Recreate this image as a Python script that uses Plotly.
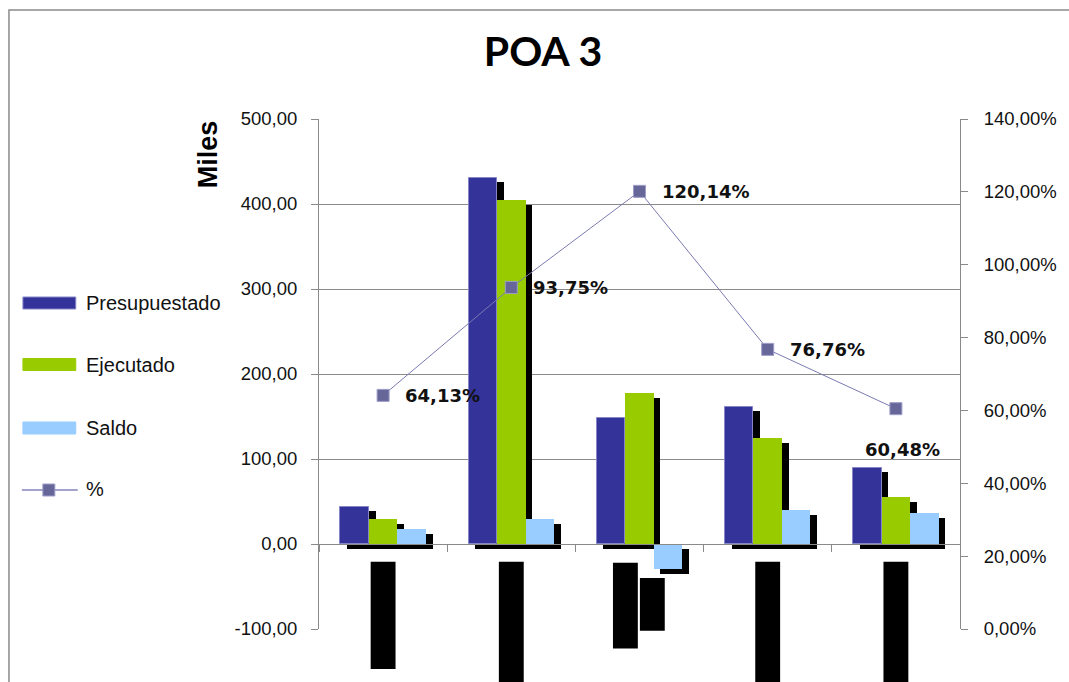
import plotly.graph_objects as go

# ---- data -------------------------------------------------------------
groups = [0, 1, 2, 3, 4]
presupuestado = [44.0, 431.0, 148.0, 161.5, 90.0]
ejecutado = [29.0, 404.5, 177.5, 124.5, 55.5]
saldo = [17.5, 29.0, -29.5, 39.5, 36.5]
porcentaje = [64.13, 93.75, 120.14, 76.76, 60.48]

left_ticks = [-100, 0, 100, 200, 300, 400, 500]
left_tick_text = ["-100,00", "0,00", "100,00", "200,00", "300,00", "400,00", "500,00"]
right_ticks = [0, 20, 40, 60, 80, 100, 120, 140]
right_tick_text = ["0,00%", "20,00%", "40,00%", "60,00%", "80,00%",
                   "100,00%", "120,00%", "140,00%"]

# category-label blocks under the axis: (group, offset, top, bottom) in axis units
label_blocks = [
    (0, 0.00, -21, -147),
    (1, 0.00, -21, -185),
    (2, -0.11, -22, -123),
    (2, 0.10, -40, -102),
    (3, 0.00, -21, -185),
    (4, 0.00, -21, -185),
]

# ---- layout geometry --------------------------------------------------
W, H = 1069, 682
M = dict(l=319, r=107, t=119, b=53)
PW = W - M["l"] - M["r"]
PH = H - M["t"] - M["b"]
Y_RANGE = [-100, 500]
X_RANGE = [-0.5, 4.5]


def px(x):
    return (x - M["l"]) / PW


def py(y):
    return 1 - (y - M["t"]) / PH


GRAY = "#8a8a8a"
C_PRES = "#333399"
C_EJEC = "#99cc00"
C_SALDO = "#99ccff"
C_PCT = "#666699"

BAR_W = 2 / 9
OFFSETS = [-1.5 * BAR_W, -0.5 * BAR_W, 0.5 * BAR_W]
SHADOW_DX = 0.052
SHADOW_DY = 5.5

fig = go.Figure()

series = [(presupuestado, C_PRES, dict(color="#8585c8", width=1)),
          (ejecutado, C_EJEC, dict(width=0)),
          (saldo, C_SALDO, dict(width=0))]
for (vals, col, outline), off in zip(series, OFFSETS):
    # drop shadow
    fig.add_trace(go.Bar(x=groups, y=vals, base=-SHADOW_DY, offset=off + SHADOW_DX,
                         width=BAR_W, marker=dict(color="black", line=dict(width=0)),
                         showlegend=False, hoverinfo="skip"))
    fig.add_trace(go.Bar(x=groups, y=vals, offset=off, width=BAR_W,
                         marker=dict(color=col, line=outline),
                         showlegend=False))

fig.add_trace(go.Scatter(
    x=groups, y=porcentaje, yaxis="y2", mode="lines+markers",
    line=dict(color="#7a7ab2", width=1),
    marker=dict(symbol="square", size=12, color=C_PCT,
                line=dict(color="#9c9cc8", width=1)),
    showlegend=False))

# ---- annotations ------------------------------------------------------
annotations = []
for i, v in enumerate(porcentaje):
    txt = f"{v:.2f}".replace(".", ",") + "%"
    last = i == len(porcentaje) - 1
    annotations.append(dict(
        x=groups[i], y=v, xref="x", yref="y2", text=txt, showarrow=False,
        xanchor="center" if last else "left", yanchor="middle",
        xshift=7 if last else 20, yshift=-41 if last else 0,
        font=dict(family="DejaVu Sans", size=18, color="#111111", weight="bold")))

annotations.append(dict(
    x=px(208), y=py(154), xref="paper", yref="paper", text="Miles",
    textangle=-90, showarrow=False, xanchor="center", yanchor="middle",
    font=dict(family="Liberation Sans Narrow, Liberation Sans", size=27,
              color="black", weight="bold")))

shapes = []
# chart frame
shapes.append(dict(type="rect", xref="paper", yref="paper",
                   x0=px(8), y0=py(10), x1=px(1080), y1=py(700),
                   line=dict(color=GRAY, width=1.5), fillcolor="rgba(0,0,0,0)"))

# legend
legend_items = [("Presupuestado", C_PRES, 303), ("Ejecutado", C_EJEC, 364.5),
                ("Saldo", C_SALDO, 428)]
for name, col, yc in legend_items:
    shapes.append(dict(type="rect", xref="paper", yref="paper",
                       x0=px(22), x1=px(75), y0=py(yc - 6), y1=py(yc + 6),
                       fillcolor=col,
                       line=dict(color="#8585c8" if col == C_PRES else col, width=1)))
    annotations.append(dict(x=px(83), y=py(yc), xref="paper", yref="paper",
                            text=name, showarrow=False, xanchor="left", yanchor="middle",
                            font=dict(family="Liberation Sans", size=20, color="#111111")))
shapes.append(dict(type="line", xref="paper", yref="paper",
                   x0=px(21), x1=px(77), y0=py(490), y1=py(490),
                   line=dict(color="#a3a3cc", width=2)))
shapes.append(dict(type="rect", xref="paper", yref="paper",
                   x0=px(42), x1=px(54), y0=py(484), y1=py(496),
                   fillcolor=C_PCT, line=dict(color="#9c9cc8", width=1)))
annotations.append(dict(x=px(83), y=py(489), xref="paper", yref="paper",
                        text="%", showarrow=False, xanchor="left", yanchor="middle",
                        font=dict(family="Liberation Sans", size=20, color="#111111")))

# category-label blocks (below the zero line, extending past the plot area)
ySpan = Y_RANGE[1] - Y_RANGE[0]
xSpan = X_RANGE[1] - X_RANGE[0]
BLOCK_W = 0.194
for g, off, top, bottom in label_blocks:
    xc = g + off
    shapes.append(dict(type="rect", xref="x domain", yref="y domain",
                       x0=(xc - BLOCK_W / 2 - X_RANGE[0]) / xSpan,
                       x1=(xc + BLOCK_W / 2 - X_RANGE[0]) / xSpan,
                       y0=(bottom - Y_RANGE[0]) / ySpan,
                       y1=(top - Y_RANGE[0]) / ySpan,
                       fillcolor="black", line=dict(width=0)))

tick_font = dict(family="Liberation Sans", size=18.5, color="#111111")

fig.update_layout(
    width=W, height=H, margin=M,
    paper_bgcolor="white", plot_bgcolor="white",
    barmode="overlay", bargap=0,
    title=dict(text="POA 3", x=543 / W, xanchor="center", y=1 - 52 / H,
               yanchor="middle", xref="container", yref="container",
               font=dict(family="Lato", size=41, color="black", weight="bold")),
    xaxis=dict(range=X_RANGE, anchor="free", position=(0 - Y_RANGE[0]) / ySpan,
               showline=True, linecolor=GRAY, linewidth=1,
               tickmode="linear", tick0=-0.5, dtick=1,
               ticks="outside", ticklen=7, tickcolor=GRAY,
               showticklabels=False, showgrid=False, zeroline=False,
               fixedrange=True),
    yaxis=dict(range=Y_RANGE, tickmode="array", tickvals=left_ticks,
               ticktext=left_tick_text, tickfont=tick_font,
               ticks="outside", ticklen=7, tickcolor=GRAY,
               showline=True, linecolor=GRAY, linewidth=1,
               showgrid=True, gridcolor=GRAY, gridwidth=1,
               zeroline=False, ticklabelstandoff=10),
    yaxis2=dict(range=[0, 140], overlaying="y", side="right", anchor="x",
                tickmode="array", tickvals=right_ticks, ticktext=right_tick_text,
                tickfont=tick_font, ticks="outside", ticklen=7, tickcolor=GRAY,
                showline=True, linecolor=GRAY, linewidth=1,
                showgrid=False, zeroline=False, ticklabelstandoff=12),
    shapes=shapes,
    annotations=annotations,
    showlegend=False,
)

fig.write_html("out.html")
